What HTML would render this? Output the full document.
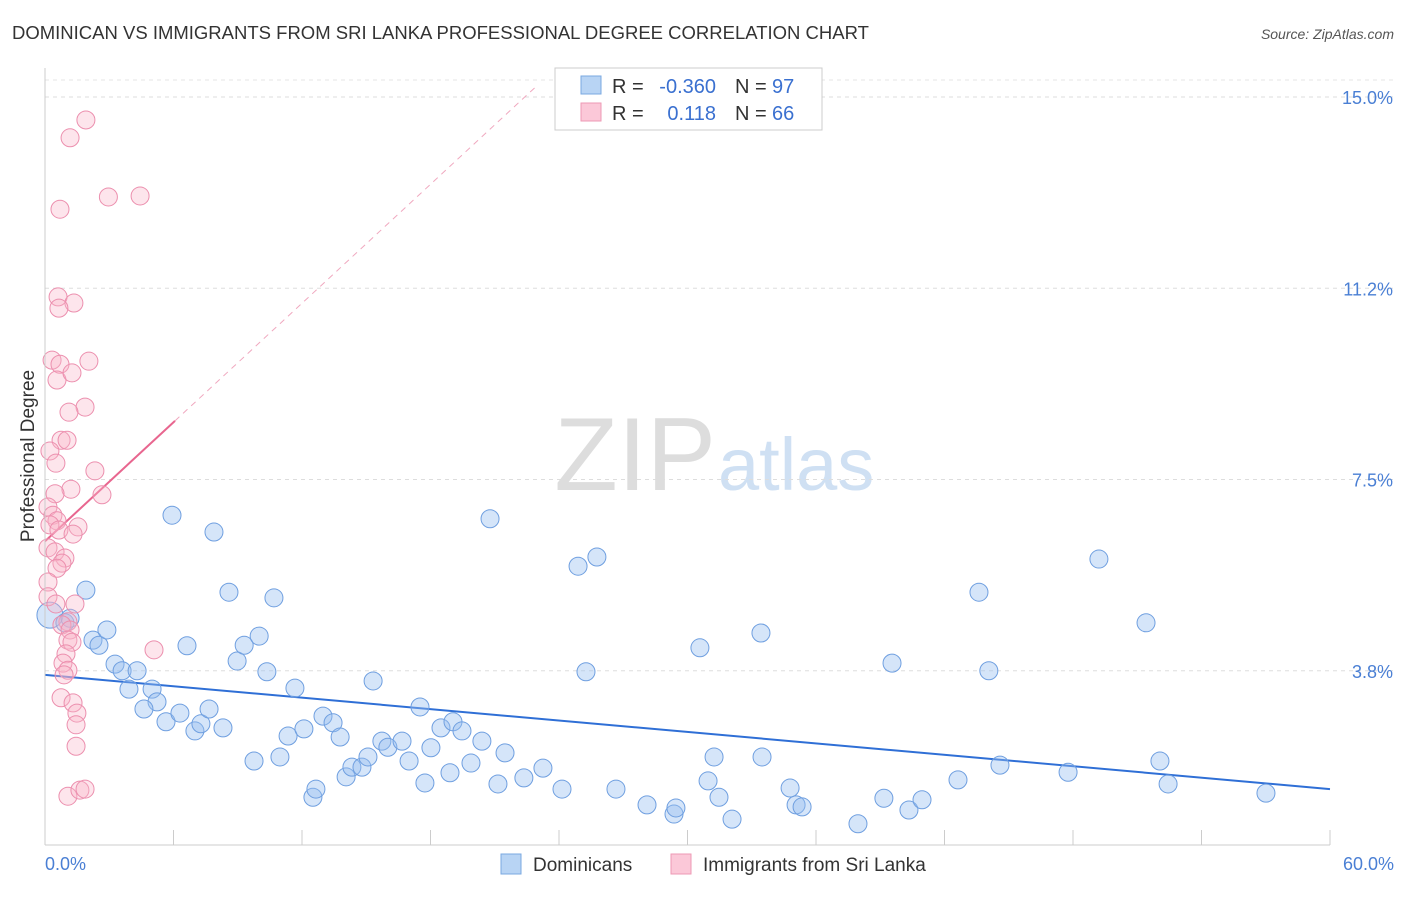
<!DOCTYPE html>
<html><head><meta charset="utf-8"><style>
body{margin:0;background:#fff;font-family:"Liberation Sans",sans-serif;}
svg text{font-family:"Liberation Sans",sans-serif;}
</style></head><body>
<svg id="chart" width="1406" height="892" xmlns="http://www.w3.org/2000/svg">
<text x="12" y="39" font-size="18.5" fill="#333">DOMINICAN VS IMMIGRANTS FROM SRI LANKA PROFESSIONAL DEGREE CORRELATION CHART</text>
<text x="1394" y="39" font-size="14" fill="#555" font-style="italic" text-anchor="end">Source: ZipAtlas.com</text>
<text x="716" y="490" font-size="104" fill="#ddd" font-family="Liberation Serif" text-anchor="end">ZIP</text>
<text x="718" y="490" font-size="74" fill="#cfe0f3">atlas</text>
<text transform="translate(34,456) rotate(-90)" font-size="19" fill="#333" text-anchor="middle">Professional Degree</text>
<g id="grid"></g><g id="ticks"></g><g id="trend"></g><g id="pts"></g>
<line x1="45" y1="845" x2="1330" y2="845" stroke="#ccc"/>
<line x1="45" y1="68" x2="45" y2="845" stroke="#ccc"/>
<text x="45" y="870" font-size="18" fill="#4a7fd4">0.0%</text>
<text x="1394" y="870" font-size="18" fill="#4a7fd4" text-anchor="end">60.0%</text>
<g>
<rect x="555" y="68" width="267" height="62" fill="#fff" stroke="#ccc"/>
<rect x="581" y="76" width="20" height="18" fill="#b8d4f4" stroke="#7aa8e0"/>
<rect x="581" y="103" width="20" height="18" fill="#fbc8d8" stroke="#ee99b4"/>
<text x="612" y="93" font-size="20" fill="#333">R =</text>
<text x="716" y="93" font-size="20" fill="#3a70d0" text-anchor="end">-0.360</text>
<text x="735" y="93" font-size="20" fill="#333">N =</text>
<text x="772" y="93" font-size="20" fill="#3a70d0">97</text>
<text x="612" y="120" font-size="20" fill="#333">R =</text>
<text x="716" y="120" font-size="20" fill="#3a70d0" text-anchor="end">0.118</text>
<text x="735" y="120" font-size="20" fill="#333">N =</text>
<text x="772" y="120" font-size="20" fill="#3a70d0">66</text>
</g>
<g>
<rect x="501" y="854" width="20" height="20" fill="#b8d4f4" stroke="#7aa8e0"/>
<text x="533" y="871" font-size="19" fill="#333">Dominicans</text>
<rect x="671" y="854" width="20" height="20" fill="#fbc8d8" stroke="#ee99b4"/>
<text x="703" y="871" font-size="19" fill="#333">Immigrants from Sri Lanka</text>
</g>
</svg>
<script>
const yTicks=[15,11.25,7.5,3.75];
const yTickLabels=["15.0%","11.2%","7.5%","3.8%"];
const xTicks=[0,6,12,18,24,30,36,42,48,54,60];
const blueX=[5.93,7.89,20.78,24.89,25.77,49.21,43.61,51.41,8.59,10.69,1.91,0.23,0.93,1.17,2.24,2.52,2.89,3.27,3.6,4.3,3.92,5,5.23,4.62,5.65,6.3,6.63,7,7.28,7.66,8.31,8.97,9.3,10,9.76,10.36,10.97,11.67,11.35,12.09,12.51,12.65,12.98,13.45,13.78,14.06,14.33,14.8,15.08,15.32,15.73,16.01,16.67,17,17.51,17.74,18.02,18.49,18.91,19.05,19.47,19.89,20.4,21.15,21.48,22.36,23.25,24.14,25.26,26.66,28.11,29.37,29.46,30.58,30.96,31.24,31.47,32.08,33.43,33.48,34.79,35.07,35.35,37.96,39.17,39.55,40.34,40.95,42.63,44.07,44.59,47.77,52.06,52.44,57.01];
const blueY=[6.8,6.47,6.73,5.8,5.98,5.94,5.29,4.69,5.29,5.18,5.33,4.84,4.69,4.78,4.35,4.25,4.55,3.88,3.75,3.75,3.39,3.39,3.14,3,2.75,2.92,4.24,2.57,2.71,3,2.63,3.94,4.25,4.43,1.98,3.73,2.06,3.41,2.47,2.61,1.27,1.43,2.86,2.73,2.45,1.67,1.86,1.86,2.06,3.55,2.37,2.25,2.37,1.98,3.04,1.55,2.24,2.63,1.75,2.75,2.57,1.94,2.37,1.53,2.14,1.65,1.84,1.43,3.73,1.43,1.12,0.94,1.06,4.2,1.59,2.06,1.27,0.84,4.49,2.06,1.45,1.12,1.08,0.75,1.25,3.9,1.02,1.22,1.61,3.75,1.9,1.76,1.98,1.53,1.35];
const pinkX=[1.17,1.91,0.7,2.96,4.44,0.61,1.35,0.65,0.33,0.7,2.05,0.56,1.26,1.87,1.12,0.75,1.03,0.23,0.51,2.33,1.21,0.47,2.66,0.14,0.37,0.56,0.23,1.54,0.65,1.31,0.14,0.47,0.93,0.79,0.56,0.14,0.14,0.51,1.4,1.07,0.79,1.17,1.07,1.26,5.09,0.98,0.84,1.07,0.89,0.75,1.31,1.49,1.45,1.45,1.07,1.63,1.87];
const pinkY=[14.2,14.55,12.8,13.04,13.06,11.08,10.96,10.86,9.84,9.76,9.82,9.45,9.59,8.92,8.82,8.27,8.27,8.06,7.82,7.67,7.31,7.22,7.2,6.96,6.8,6.69,6.61,6.57,6.51,6.43,6.16,6.08,5.96,5.86,5.76,5.49,5.2,5.06,5.06,4.71,4.65,4.55,4.35,4.31,4.16,4.08,3.9,3.76,3.67,3.22,3.12,2.92,2.69,2.27,1.29,1.41,1.43];
const blueTrend=[3.67,1.43];
const pinkTrend=[6.29,8.65];
const pinkTrendX=[0,6.07,22.9];
const NS="http://www.w3.org/2000/svg";
const xs=v=>45+v/60*1285, ys=v=>862-v*51;
function mk(t,a,p){const e=document.createElementNS(NS,t);for(const k in a)e.setAttribute(k,a[k]);document.getElementById(p).appendChild(e);return e;}
yTicks.forEach((t,i)=>{
 const l=mk('line',{x1:45,x2:1394,y1:ys(t),y2:ys(t),stroke:'#ddd','stroke-dasharray':'4,4'},'grid');
 
 
 const tx=mk('text',{x:1393,y:ys(t)+7,'font-size':18,fill:'#4a7fd4','text-anchor':'end'},'grid');
 tx.textContent=yTickLabels[i];
 
 
});
const topGrid=mk('line',{x1:45,x2:1394,y1:80,y2:80,stroke:'#e4e4e4','stroke-dasharray':'4,4'},'grid');


xTicks.forEach(t=>{
 const l=mk('line',{x1:xs(t),x2:xs(t),y1:830,y2:845,stroke:'#ccc'},'ticks');
 
 
});
const bt=mk('line',{x1:xs(0),x2:xs(60),y1:ys(blueTrend[0]),y2:ys(blueTrend[1]),stroke:'#2f6fd6','stroke-width':2},'trend');


const slope=(pinkTrend[1]-pinkTrend[0])/(pinkTrendX[1]-pinkTrendX[0]);
const pd=mk('line',{x1:xs(pinkTrendX[1]),x2:xs(pinkTrendX[2]),y1:ys(pinkTrend[1]),y2:ys(pinkTrend[0]+slope*pinkTrendX[2]),stroke:'#f0a8bf','stroke-width':1,'stroke-dasharray':'6,5'},'trend');


const pt=mk('line',{x1:xs(pinkTrendX[0]),x2:xs(pinkTrendX[1]),y1:ys(pinkTrend[0]),y2:ys(pinkTrend[1]),stroke:'#e8668f','stroke-width':2},'trend');


blueX.forEach((x,i)=>{
 const c=mk('circle',{cx:xs(x),cy:ys(blueY[i]),r:i==11?13:9,fill:'rgba(150,190,240,0.4)',stroke:'#6f9fe0','stroke-width':1},'pts');
 
 
});
pinkX.forEach((x,i)=>{
 const c=mk('circle',{cx:xs(x),cy:ys(pinkY[i]),r:9,fill:'rgba(248,180,200,0.35)',stroke:'#ec8fae','stroke-width':1},'pts');
 
 
});
</script>
</body></html>
